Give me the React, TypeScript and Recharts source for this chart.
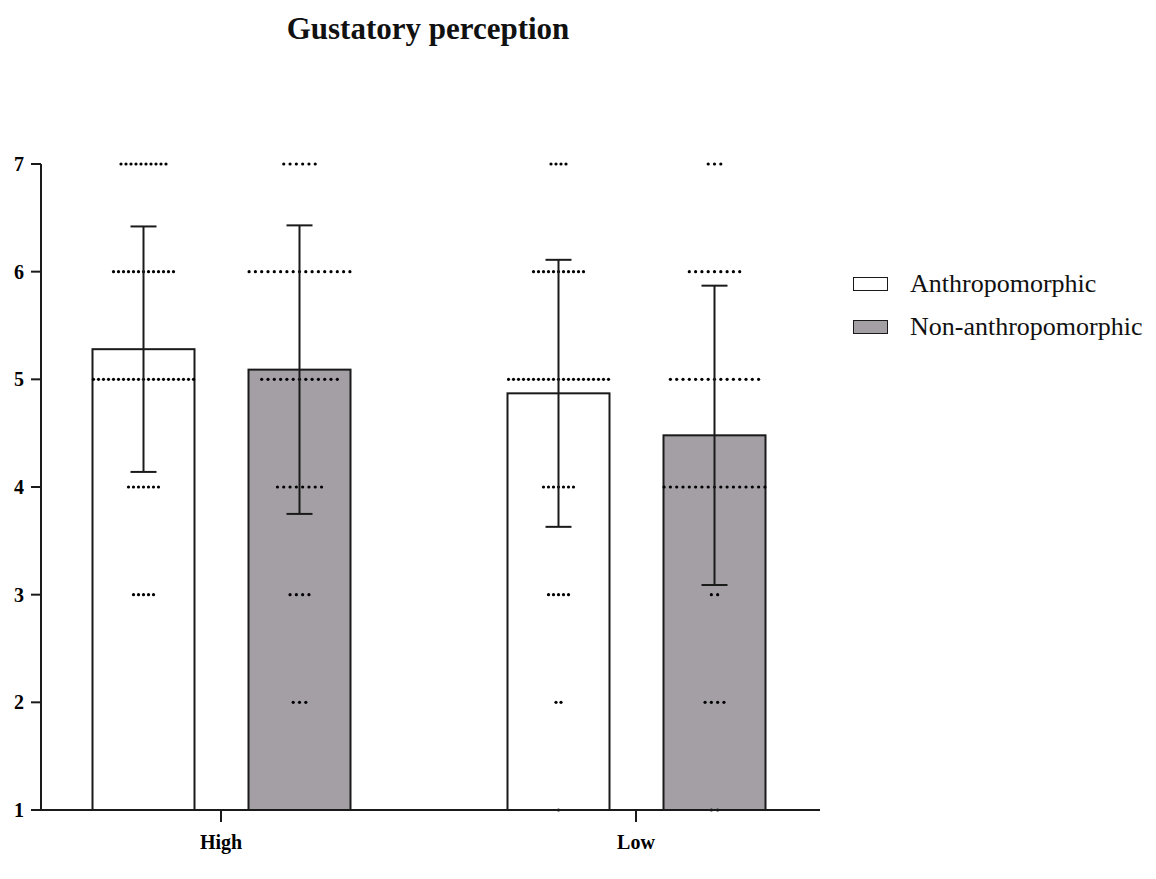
import { ComposedChart, Bar, XAxis, YAxis, ErrorBar } from 'recharts'

// groups and score scale
const groups = ['High', 'Low']
const scoreLevels = [1, 2, 3, 4, 5, 6, 7]

// bar means and SD (error bars)
const anthroMean = [5.28, 4.87]
const anthroSd = [1.14, 1.24]
const nonMean = [5.09, 4.48]
const nonSd = [1.34, 1.39]

// number of raw responses at each score level (1..7)
const anthroHighCounts = [0, 0, 5, 7, 21, 13, 10]
const anthroLowCounts = [1, 2, 5, 7, 21, 11, 4]
const nonHighCounts = [0, 3, 4, 8, 13, 17, 6]
const nonLowCounts = [2, 4, 2, 17, 15, 9, 3]

const anthroCounts = [anthroHighCounts, anthroLowCounts]
const nonCounts = [nonHighCounts, nonLowCounts]

const chartData = groups.map((g, i) => ({
  group: g,
  anthro: anthroMean[i],
  anthroErr: anthroSd[i],
  anthroCounts: anthroCounts[i],
  nonAnthro: nonMean[i],
  nonErr: nonSd[i],
  nonCounts: nonCounts[i],
}))

const series = [
  { key: 'anthro', err: 'anthroErr', counts: 'anthroCounts', name: 'Anthropomorphic', fill: '#ffffff', spacing: 5 },
  { key: 'nonAnthro', err: 'nonErr', counts: 'nonCounts', name: 'Non-anthropomorphic', fill: '#a39fa5', spacing: 6.3 },
]

const serif = '"Liberation Serif", "Times New Roman", serif'
const ink = '#1a1a1a'

function DottedBar(props: any) {
  const { x, y, width, height, fill, payload, meanKey, countsKey, spacing } = props
  const mean = payload[meanKey]
  const ppu = height / (mean - 1)
  const base = y + height
  const cx = x + width / 2
  const counts: number[] = payload[countsKey]
  return (
    <g>
      <rect x={x} y={y} width={width} height={height} fill={fill} stroke={ink} strokeWidth={2} />
      {counts.map((n, i) => {
        const cy = base - (scoreLevels[i] - 1) * ppu
        return Array.from({ length: n }, (_, k) => (
          <circle key={`${i}-${k}`} cx={cx + (k - (n - 1) / 2) * spacing} cy={cy} r={1.6} fill="#000" />
        ))
      })}
    </g>
  )
}

export default function App() {
  return (
    <div style={{ position: 'absolute', left: 0, top: 0, width: 1156, height: 879, background: '#fff' }}>
      <div
        style={{
          position: 'absolute', left: 0, width: 856, top: 11, textAlign: 'center',
          fontFamily: serif, fontWeight: 'bold', fontSize: 31, color: '#111',
        }}
      >
        Gustatory perception
      </div>

      <ComposedChart
        width={1156}
        height={879}
        data={chartData}
        margin={{ top: 164, right: 336, bottom: 0, left: 0 }}
        barGap={54}
      >
        <XAxis
          dataKey="group"
          height={69}
          padding={{ left: -27.5, right: -23.5 }}
          axisLine={{ stroke: ink, strokeWidth: 2 }}
          tickLine={{ stroke: ink, strokeWidth: 2 }}
          tickSize={12}
          tickMargin={13}
          tick={{ fontFamily: serif, fontWeight: 'bold', fontSize: 20, fill: '#000' }}
        />
        <YAxis
          type="number"
          domain={[1, 7]}
          ticks={scoreLevels}
          width={41}
          axisLine={{ stroke: ink, strokeWidth: 2 }}
          tickLine={{ stroke: ink, strokeWidth: 2 }}
          tickSize={10}
          tickMargin={7}
          tick={{ fontFamily: serif, fontWeight: 'bold', fontSize: 20, fill: '#000' }}
        />
        {series.map((s) => (
          <Bar
            key={s.key}
            dataKey={s.key}
            name={s.name}
            fill={s.fill}
            barSize={102}
            isAnimationActive={false}
            shape={(p: any) => (
              <DottedBar {...p} meanKey={s.key} countsKey={s.counts} spacing={s.spacing} />
            )}
          >
            <ErrorBar dataKey={s.err} width={13} stroke={ink} strokeWidth={2} direction="y" />
          </Bar>
        ))}
      </ComposedChart>

      <div style={{ position: 'absolute', left: 853, top: 262, fontFamily: serif, fontSize: 26, color: '#111' }}>
        {series.map((s) => (
          <div key={s.key} style={{ display: 'flex', alignItems: 'center', height: 43 }}>
            <span
              style={{
                display: 'inline-block', width: 33, height: 12, background: s.fill,
                border: `1.5px solid ${ink}`, marginRight: 22,
              }}
            />
            <span>{s.name}</span>
          </div>
        ))}
      </div>
    </div>
  )
}
